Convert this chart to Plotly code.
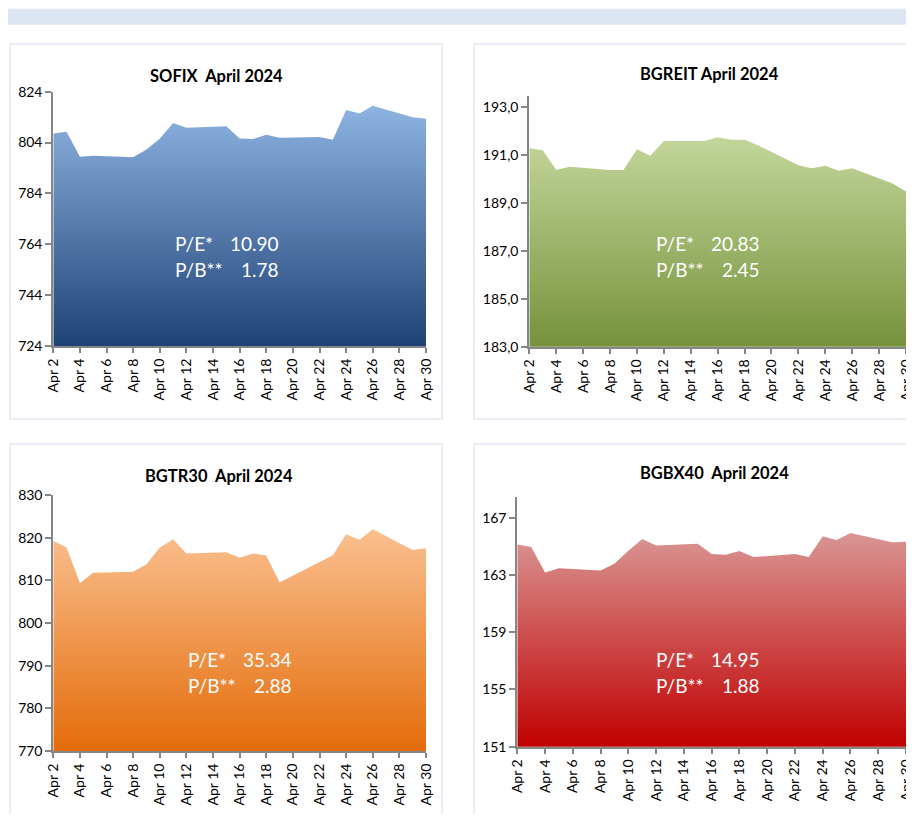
import plotly.graph_objects as go

# ---------------- data ----------------
dates = ["2024-04-02", "2024-04-03", "2024-04-04", "2024-04-05", "2024-04-08",
         "2024-04-09", "2024-04-10", "2024-04-11", "2024-04-12", "2024-04-15",
         "2024-04-16", "2024-04-17", "2024-04-18", "2024-04-19", "2024-04-22",
         "2024-04-23", "2024-04-24", "2024-04-25", "2024-04-26", "2024-04-29",
         "2024-04-30"]

sofix = [807.6, 808.3, 798.4, 798.8, 798.2, 801.3, 805.5, 811.7, 809.8, 810.4,
         805.6, 805.4, 807.1, 805.9, 806.2, 805.1, 816.8, 815.4, 818.5, 814.0, 813.4]
bgreit = [191.29, 191.20, 190.38, 190.52, 190.38, 190.38, 191.25, 190.97, 191.59, 191.59,
          191.75, 191.64, 191.64, 191.41, 190.58, 190.45, 190.56, 190.35, 190.45, 189.82, 189.48]
bgtr30 = [819.3, 817.7, 809.3, 811.8, 812.0, 813.75, 817.7, 819.6, 816.3, 816.6,
          815.3, 816.3, 815.8, 809.5, 814.3, 815.9, 820.8, 819.5, 822.0, 817.1, 817.5]
bgbx40 = [165.14, 164.95, 163.18, 163.48, 163.32, 163.79, 164.69, 165.51, 165.07, 165.18,
          164.46, 164.41, 164.67, 164.25, 164.46, 164.25, 165.70, 165.44, 165.93, 165.28, 165.32]

titles = ["SOFIX\u00a0 April 2024", "BGREIT April 2024", "BGTR30\u00a0 April 2024", "BGBX40\u00a0 April 2024"]
pe_values = ["10.90", "20.83", "35.34", "14.95"]
pb_values = ["1.78", "2.45", "2.88", "1.88"]

sofix_ticks = [724, 744, 764, 784, 804, 824]
bgreit_ticks = [183.0, 185.0, 187.0, 189.0, 191.0, 193.0]
bgreit_ticktext = ["183,0", "185,0", "187,0", "189,0", "191,0", "193,0"]
bgtr30_ticks = [770, 780, 790, 800, 810, 820, 830]
bgbx40_ticks = [151, 155, 159, 163, 167]

# ---------------- geometry helpers ----------------
W, H = 906, 806
OX, OY = 8, 8


def fx(px):
    return (px - OX) / W


def fy(py):
    return 1 - (py - OY) / H


FONT = "Lato"
AXIS_GRAY = "#868686"

panels = [
    dict(series=sofix, yr=[724, 824], tv=sofix_ticks, tt=[str(v) for v in sofix_ticks],
         px=(53.3, 426), py=(346, 91.7), c=("#1F4274", "#8EB4E3"),
         title_xy=(216, 76), ann_x=(173, 281), ann_y=(243, 269)),
    dict(series=bgreit, yr=[183, 193.47], tv=bgreit_ticks, tt=bgreit_ticktext,
         px=(529.3, 906), py=(346.7, 96), c=("#76923C", "#C3D69B"),
         title_xy=(709, 74), ann_x=(654, 762), ann_y=(243, 269)),
    dict(series=bgtr30, yr=[770, 830], tv=bgtr30_ticks, tt=[str(v) for v in bgtr30_ticks],
         px=(53.3, 426), py=(751, 495), c=("#E46C0A", "#FAC090"),
         title_xy=(219, 476), ann_x=(186, 294), ann_y=(659, 685)),
    dict(series=bgbx40, yr=[151, 168.43], tv=bgbx40_ticks, tt=[str(v) for v in bgbx40_ticks],
         px=(517.3, 906), py=(746.7, 497.3), c=("#C00000", "#D99694"),
         title_xy=(714, 473), ann_x=(654, 762), ann_y=(659, 685)),
]

fig = go.Figure()
layout = dict(
    width=W, height=H, margin=dict(l=0, r=0, t=0, b=0, autoexpand=False),
    paper_bgcolor="white", plot_bgcolor="rgba(0,0,0,0)",
    showlegend=False, font=dict(family=FONT, color="black"),
)
annotations = []
shapes = []

# top bar
shapes.append(dict(type="rect", xref="paper", yref="paper",
                    x0=fx(4), x1=fx(916), y0=fy(24.5), y1=fy(9),
                    fillcolor="#DCE6F2", line=dict(color="#E9EEF6", width=1), layer="below"))
# panel borders
for (x0, x1, y0, y1) in [(10, 442, 419, 44), (474, 920, 419, 44),
                         (10, 442, 830, 444), (474, 920, 830, 444)]:
    shapes.append(dict(type="rect", xref="paper", yref="paper",
                       x0=fx(x0), x1=fx(x1), y0=fy(y0), y1=fy(y1),
                       fillcolor="rgba(0,0,0,0)", line=dict(color="#E4EAF3", width=1.5),
                       layer="below"))

for i, p in enumerate(panels):
    n = "" if i == 0 else str(i + 1)
    xa, ya = "x" + n, "y" + n
    vals = p["series"]
    fig.add_trace(go.Scatter(
        x=dates, y=vals, xaxis=xa, yaxis=ya, mode="lines",
        line=dict(width=0, color=p["c"][1]), fill="tozeroy",
        fillgradient=dict(type="vertical",
                          colorscale=[[0, p["c"][0]], [1, p["c"][1]]],
                          start=p["yr"][0], stop=max(vals)),
        hoverinfo="x+y",
    ))
    layout["xaxis" + n] = dict(
        domain=[max(0, fx(p["px"][0])), min(1, fx(p["px"][1]))], anchor=ya,
        type="date", range=["2024-04-02", "2024-04-30"], automargin=False,
        tick0="2024-04-02", dtick=2 * 86400000, tickformat="%b %-d",
        tickangle=-90, ticks="outside", ticklen=5, tickcolor=AXIS_GRAY, tickwidth=1.5,
        ticklabeloverflow="allow",
        showline=True, linecolor=AXIS_GRAY, linewidth=2,
        showgrid=False, zeroline=False, tickfont=dict(size=14, family=FONT, color="black"),
        fixedrange=True,
    )
    layout["yaxis" + n] = dict(
        domain=[max(0, fy(p["py"][0])), min(1, fy(p["py"][1]))], anchor=xa,
        range=p["yr"], tickvals=p["tv"], ticktext=p["tt"], automargin=False,
        ticks="outside", ticklen=6, tickcolor=AXIS_GRAY, tickwidth=1.5,
        showline=True, linecolor=AXIS_GRAY, linewidth=2,
        showgrid=False, zeroline=False, tickfont=dict(size=14, family=FONT, color="black"),
        fixedrange=True,
    )
    annotations.append(dict(xref="paper", yref="paper", x=fx(p["title_xy"][0]), y=fy(p["title_xy"][1]),
                            text="<b>" + titles[i] + "</b>", showarrow=False,
                            xanchor="center", yanchor="middle",
                            font=dict(size=16.5, family=FONT, color="black")))
    for lab, val, yy in [("P/E*", pe_values[i], p["ann_y"][0]), ("P/B**", pb_values[i], p["ann_y"][1])]:
        annotations.append(dict(xref="paper", yref="paper", x=fx(p["ann_x"][0]), y=fy(yy),
                                text=lab, showarrow=False, xanchor="left", yanchor="middle",
                                font=dict(size=19, family=FONT, color="white")))
        annotations.append(dict(xref="paper", yref="paper", x=fx(p["ann_x"][1]), y=fy(yy),
                                text=val, showarrow=False, xanchor="right", yanchor="middle",
                                font=dict(size=19, family=FONT, color="white")))

layout["annotations"] = annotations
layout["shapes"] = shapes
fig.update_layout(**layout)

fig.write_html("out.html")
